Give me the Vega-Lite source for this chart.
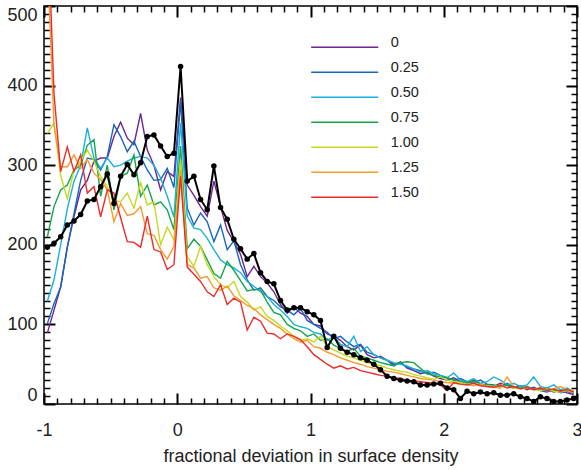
{
  "$schema": "https://vega.github.io/schema/vega-lite/v6.json",
  "width": 533,
  "height": 398,
  "autosize": {"type": "none"},
  "padding": {"left": 44, "top": 6, "right": 4, "bottom": 66},
  "config": {
    "font": "Liberation Sans",
    "view": {"stroke": "#000", "strokeWidth": 1.5},
    "axis": {"grid": false, "domain": false, "labelColor": "#222", "titleColor": "#222", "labelFont": "Liberation Sans", "titleFont": "Liberation Sans"},
    "legend": {"labelFont": "Liberation Sans", "labelColor": "#222"}
  },
  "data": {"values": [
    {"x": -0.975, "a": 89, "b": 101, "c": 129, "d": 210, "e": 340, "f": 560, "g": 620, "k": 197},
    {"x": -0.925, "a": 118, "b": 126, "c": 156, "d": 248, "e": 353, "f": 350, "g": 390, "k": 202},
    {"x": -0.875, "a": 147, "b": 147, "c": 200, "d": 269, "e": 287, "f": 298, "g": 292, "k": 210},
    {"x": -0.825, "a": 197, "b": 197, "c": 245, "d": 275, "e": 258, "f": 298, "g": 323, "k": 225},
    {"x": -0.775, "a": 235, "b": 239, "c": 280, "d": 294, "e": 294, "f": 313, "g": 292, "k": 230},
    {"x": -0.725, "a": 269, "b": 281, "c": 300, "d": 300, "e": 305, "f": 296, "g": 313, "k": 238},
    {"x": -0.675, "a": 281, "b": 309, "c": 347, "d": 325, "e": 319, "f": 307, "g": 265, "k": 255},
    {"x": -0.625, "a": 305, "b": 307, "c": 309, "d": 332, "e": 305, "f": 290, "g": 273, "k": 257},
    {"x": -0.575, "a": 309, "b": 294, "c": 296, "d": 261, "e": 286, "f": 282, "g": 235, "k": 273},
    {"x": -0.525, "a": 309, "b": 311, "c": 309, "d": 300, "e": 273, "f": 269, "g": 269, "k": 289},
    {"x": -0.475, "a": 336, "b": 351, "c": 298, "d": 244, "e": 256, "f": 229, "g": 265, "k": 252},
    {"x": -0.425, "a": 354, "b": 336, "c": 300, "d": 286, "e": 254, "f": 252, "g": 234, "k": 286},
    {"x": -0.375, "a": 334, "b": 317, "c": 305, "d": 290, "e": 265, "f": 237, "g": 204, "k": 301},
    {"x": -0.325, "a": 326, "b": 330, "c": 309, "d": 313, "e": 246, "f": 239, "g": 203, "k": 288},
    {"x": -0.275, "a": 365, "b": 311, "c": 311, "d": 261, "e": 278, "f": 248, "g": 197, "k": 303},
    {"x": -0.225, "a": 319, "b": 294, "c": 309, "d": 275, "e": 250, "f": 214, "g": 236, "k": 336},
    {"x": -0.175, "a": 300, "b": 281, "c": 300, "d": 250, "e": 254, "f": 212, "g": 194, "k": 338},
    {"x": -0.125, "a": 269, "b": 282, "c": 284, "d": 254, "e": 200, "f": 194, "g": 191, "k": 324},
    {"x": -0.075, "a": 292, "b": 296, "c": 261, "d": 244, "e": 222, "f": 182, "g": 169, "k": 311},
    {"x": -0.025, "a": 286, "b": 272, "c": 235, "d": 219, "e": 206, "f": 198, "g": 175, "k": 315},
    {"x": 0.025, "a": 385, "b": 380, "c": 353, "d": 324, "e": 307, "f": 294, "g": 286, "k": 424},
    {"x": 0.075, "a": 275, "b": 246, "c": 236, "d": 195, "e": 185, "f": 175, "g": 172, "k": 280},
    {"x": 0.125, "a": 262, "b": 225, "c": 221, "d": 207, "e": 173, "f": 171, "g": 163, "k": 286},
    {"x": 0.175, "a": 248, "b": 240, "c": 219, "d": 198, "e": 198, "f": 158, "g": 154, "k": 257},
    {"x": 0.225, "a": 236, "b": 229, "c": 208, "d": 181, "e": 175, "f": 160, "g": 141, "k": 244},
    {"x": 0.275, "a": 280, "b": 204, "c": 194, "d": 164, "e": 160, "f": 146, "g": 135, "k": 299},
    {"x": 0.325, "a": 248, "b": 225, "c": 181, "d": 158, "e": 150, "f": 143, "g": 150, "k": 247},
    {"x": 0.375, "a": 218, "b": 194, "c": 175, "d": 179, "e": 146, "f": 148, "g": 125, "k": 232},
    {"x": 0.425, "a": 204, "b": 205, "c": 171, "d": 168, "e": 154, "f": 136, "g": 133, "k": 207},
    {"x": 0.475, "a": 188, "b": 175, "c": 165, "d": 155, "e": 135, "f": 130, "g": 128, "k": 195},
    {"x": 0.525, "a": 160, "b": 156, "c": 154, "d": 142, "e": 128, "f": 124, "g": 93, "k": 182},
    {"x": 0.575, "a": 173, "b": 143, "c": 148, "d": 144, "e": 118, "f": 120, "g": 109, "k": 189},
    {"x": 0.625, "a": 160, "b": 146, "c": 141, "d": 143, "e": 122, "f": 112, "g": 104, "k": 165},
    {"x": 0.675, "a": 152, "b": 135, "c": 135, "d": 128, "e": 110, "f": 106, "g": 89, "k": 154},
    {"x": 0.725, "a": 141, "b": 130, "c": 125, "d": 115, "e": 105, "f": 100, "g": 88, "k": 151},
    {"x": 0.775, "a": 125, "b": 122, "c": 118, "d": 112, "e": 98, "f": 95, "g": 82, "k": 130},
    {"x": 0.825, "a": 114, "b": 118, "c": 110, "d": 100, "e": 92, "f": 88, "g": 88, "k": 118},
    {"x": 0.875, "a": 122, "b": 112, "c": 100, "d": 95, "e": 85, "f": 82, "g": 85, "k": 121},
    {"x": 0.925, "a": 114, "b": 120, "c": 97, "d": 92, "e": 80, "f": 78, "g": 81, "k": 121},
    {"x": 0.975, "a": 110, "b": 105, "c": 95, "d": 85, "e": 82, "f": 80, "g": 72, "k": 116},
    {"x": 1.025, "a": 100, "b": 100, "c": 90, "d": 88, "e": 78, "f": 72, "g": 62, "k": 112},
    {"x": 1.075, "a": 98, "b": 95, "c": 88, "d": 80, "e": 85, "f": 70, "g": 56, "k": 105},
    {"x": 1.125, "a": 88, "b": 90, "c": 80, "d": 82, "e": 72, "f": 65, "g": 50, "k": 71},
    {"x": 1.175, "a": 85, "b": 82, "c": 85, "d": 74, "e": 68, "f": 62, "g": 45, "k": 85},
    {"x": 1.225, "a": 80, "b": 85, "c": 75, "d": 70, "e": 64, "f": 58, "g": 48, "k": 70},
    {"x": 1.275, "a": 72, "b": 78, "c": 72, "d": 66, "e": 60, "f": 55, "g": 44, "k": 65},
    {"x": 1.325, "a": 68, "b": 72, "c": 85, "d": 70, "e": 58, "f": 52, "g": 46, "k": 62},
    {"x": 1.375, "a": 74, "b": 75, "c": 66, "d": 60, "e": 55, "f": 50, "g": 42, "k": 58},
    {"x": 1.425, "a": 62, "b": 65, "c": 72, "d": 58, "e": 52, "f": 47, "g": 40, "k": 55},
    {"x": 1.475, "a": 58, "b": 62, "c": 62, "d": 55, "e": 50, "f": 45, "g": 38, "k": 50},
    {"x": 1.525, "a": 60, "b": 58, "c": 58, "d": 52, "e": 48, "f": 43, "g": 36, "k": 43},
    {"x": 1.575, "a": 55, "b": 55, "c": 55, "d": 50, "e": 45, "f": 41, "g": 35, "k": 35},
    {"x": 1.625, "a": 48, "b": 50, "c": 52, "d": 48, "e": 43, "f": 40, "g": 33, "k": 32},
    {"x": 1.675, "a": 53, "b": 52, "c": 50, "d": 52, "e": 41, "f": 38, "g": 32, "k": 30},
    {"x": 1.725, "a": 45, "b": 46, "c": 48, "d": 53, "e": 40, "f": 36, "g": 30, "k": 29},
    {"x": 1.775, "a": 42, "b": 44, "c": 44, "d": 52, "e": 37, "f": 34, "g": 29, "k": 28},
    {"x": 1.825, "a": 38, "b": 42, "c": 40, "d": 45, "e": 35, "f": 32, "g": 28, "k": 24},
    {"x": 1.875, "a": 40, "b": 38, "c": 42, "d": 38, "e": 33, "f": 31, "g": 27, "k": 24},
    {"x": 1.925, "a": 35, "b": 40, "c": 38, "d": 36, "e": 31, "f": 30, "g": 26, "k": 25},
    {"x": 1.975, "a": 32, "b": 36, "c": 36, "d": 34, "e": 34, "f": 28, "g": 24, "k": 26},
    {"x": 2.025, "a": 30, "b": 33, "c": 33, "d": 33, "e": 30, "f": 27, "g": 17, "k": 20},
    {"x": 2.075, "a": 33, "b": 30, "c": 39, "d": 30, "e": 28, "f": 26, "g": 27, "k": 18},
    {"x": 2.125, "a": 28, "b": 32, "c": 30, "d": 28, "e": 27, "f": 25, "g": 25, "k": 7},
    {"x": 2.175, "a": 26, "b": 28, "c": 28, "d": 27, "e": 25, "f": 24, "g": 24, "k": 16},
    {"x": 2.225, "a": 30, "b": 27, "c": 32, "d": 29, "e": 26, "f": 23, "g": 26, "k": 13},
    {"x": 2.275, "a": 25, "b": 30, "c": 26, "d": 25, "e": 24, "f": 25, "g": 23, "k": 15},
    {"x": 2.325, "a": 24, "b": 25, "c": 28, "d": 24, "e": 23, "f": 22, "g": 22, "k": 13},
    {"x": 2.375, "a": 22, "b": 24, "c": 34, "d": 23, "e": 22, "f": 21, "g": 21, "k": 14},
    {"x": 2.425, "a": 26, "b": 22, "c": 30, "d": 22, "e": 24, "f": 20, "g": 24, "k": 11},
    {"x": 2.475, "a": 23, "b": 26, "c": 24, "d": 24, "e": 21, "f": 34, "g": 20, "k": 11},
    {"x": 2.525, "a": 20, "b": 21, "c": 26, "d": 21, "e": 20, "f": 22, "g": 22, "k": 13},
    {"x": 2.575, "a": 22, "b": 23, "c": 22, "d": 20, "e": 19, "f": 19, "g": 19, "k": 9},
    {"x": 2.625, "a": 18, "b": 19, "c": 24, "d": 22, "e": 21, "f": 20, "g": 21, "k": 7},
    {"x": 2.675, "a": 21, "b": 20, "c": 34, "d": 19, "e": 18, "f": 18, "g": 18, "k": 3},
    {"x": 2.725, "a": 17, "b": 17, "c": 22, "d": 18, "e": 17, "f": 21, "g": 20, "k": 9},
    {"x": 2.775, "a": 19, "b": 15, "c": 20, "d": 20, "e": 19, "f": 17, "g": 17, "k": 7},
    {"x": 2.825, "a": 15, "b": 18, "c": 24, "d": 17, "e": 16, "f": 19, "g": 19, "k": 3},
    {"x": 2.875, "a": 17, "b": 14, "c": 18, "d": 16, "e": 15, "f": 22, "g": 16, "k": 3},
    {"x": 2.925, "a": 14, "b": 16, "c": 20, "d": 18, "e": 17, "f": 18, "g": 18, "k": 5},
    {"x": 2.975, "a": 12, "b": 13, "c": 16, "d": 15, "e": 14, "f": 17, "g": 15, "k": 7}
  ]},
  "layer": [
    {
      "transform": [{"fold": ["a", "b", "c", "d", "e", "f", "g"], "as": ["s", "v"]}],
      "mark": {"type": "line", "strokeWidth": 1.4, "clip": true},
      "encoding": {
        "x": {
          "field": "x", "type": "quantitative",
          "scale": {"domain": [-1, 3], "nice": false, "zero": false},
          "axis": {
            "orient": "bottom",
            "values": [-1, 0, 1, 2, 3],
            "labelExpr": "'' + datum.value",
            "tickSize": 11, "offset": -11, "tickColor": "#000", "tickWidth": 2,
            "labelPadding": 17,
            "labelOverlap": false,
            "labelFlush": false,
            "labelFontSize": 18,
            "title": "fractional deviation in surface density",
            "titleFontSize": 18,
            "titleFontWeight": "normal",
            "titlePadding": 8
          }
        },
        "y": {
          "field": "v", "type": "quantitative",
          "scale": {"domain": [0, 500], "nice": false},
          "axis": {
            "orient": "left",
            "values": [0, 100, 200, 300, 400, 500],
            "tickSize": 11, "offset": -11, "tickColor": "#000", "tickWidth": 2,
            "labelPadding": 7,
            "labelOverlap": false,
            "labelFlush": true,
            "labelFontSize": 18,
            "title": null
          }
        },
        "color": {
          "field": "s", "type": "nominal",
          "scale": {"domain": ["a", "b", "c", "d", "e", "f", "g"], "range": ["#6e2590", "#1466c0", "#1ab0da", "#12a54a", "#c5d920", "#f79a2e", "#ee2a2a"]},
          "legend": {
            "orient": "none", "legendX": 292.7, "legendY": 33.2, "padding": 0, "title": null,
            "symbolType": "M-5,0H5", "symbolSize": 180, "symbolStrokeWidth": 1.6,
            "labelOffset": 38, "labelFontSize": 14.5, "labelBaseline": "alphabetic", "rowPadding": 9,
            "labelExpr": "{'a': '0', 'b': '0.25', 'c': '0.50', 'd': '0.75', 'e': '1.00', 'f': '1.25', 'g': '1.50'}[datum.label]"
          }
        }
      }
    },
    {
      "mark": {"type": "line", "color": "#000", "strokeWidth": 2, "clip": true, "point": {"filled": true, "size": 30, "color": "#000"}},
      "encoding": {
        "x": {
          "field": "x", "type": "quantitative",
          "scale": {"domain": [-1, 3], "nice": false, "zero": false},
          "axis": {"orient": "top", "values": [-1, 0, 1, 2, 3], "labels": false, "tickSize": 11, "offset": -11, "tickColor": "#000", "tickWidth": 2, "title": null}
        },
        "y": {
          "field": "k", "type": "quantitative",
          "scale": {"domain": [0, 500], "nice": false},
          "axis": {"orient": "right", "values": [0, 100, 200, 300, 400, 500], "labels": false, "tickSize": 11, "offset": -11, "tickColor": "#000", "tickWidth": 2, "title": null}
        }
      }
    },
    {
      "mark": {"type": "line", "opacity": 0},
      "encoding": {
        "x": {
          "field": "x", "type": "quantitative",
          "scale": {"domain": [-1, 3], "nice": false, "zero": false},
          "axis": {"orient": "bottom", "values": [-0.9, -0.8, -0.7, -0.6, -0.5, -0.4, -0.3, -0.2, -0.1, 0.1, 0.2, 0.3, 0.4, 0.5, 0.6, 0.7, 0.8, 0.9, 1.1, 1.2, 1.3, 1.4, 1.5, 1.6, 1.7, 1.8, 1.9, 2.1, 2.2, 2.3, 2.4, 2.5, 2.6, 2.7, 2.8, 2.9], "labels": false, "tickSize": 6, "offset": -6, "tickColor": "#000", "tickWidth": 1.5, "title": null}
        },
        "y": {
          "field": "k", "type": "quantitative",
          "scale": {"domain": [0, 500], "nice": false},
          "axis": {"orient": "left", "values": [10, 20, 30, 40, 50, 60, 70, 80, 90, 110, 120, 130, 140, 150, 160, 170, 180, 190, 210, 220, 230, 240, 250, 260, 270, 280, 290, 310, 320, 330, 340, 350, 360, 370, 380, 390, 410, 420, 430, 440, 450, 460, 470, 480, 490], "labels": false, "tickSize": 6, "offset": -6, "tickColor": "#000", "tickWidth": 1.5, "title": null}
        }
      }
    },
    {
      "mark": {"type": "line", "opacity": 0},
      "encoding": {
        "x": {
          "field": "x", "type": "quantitative",
          "scale": {"domain": [-1, 3], "nice": false, "zero": false},
          "axis": {"orient": "top", "values": [-0.9, -0.8, -0.7, -0.6, -0.5, -0.4, -0.3, -0.2, -0.1, 0.1, 0.2, 0.3, 0.4, 0.5, 0.6, 0.7, 0.8, 0.9, 1.1, 1.2, 1.3, 1.4, 1.5, 1.6, 1.7, 1.8, 1.9, 2.1, 2.2, 2.3, 2.4, 2.5, 2.6, 2.7, 2.8, 2.9], "labels": false, "tickSize": 6, "offset": -6, "tickColor": "#000", "tickWidth": 1.5, "title": null}
        },
        "y": {
          "field": "k", "type": "quantitative",
          "scale": {"domain": [0, 500], "nice": false},
          "axis": {"orient": "right", "values": [10, 20, 30, 40, 50, 60, 70, 80, 90, 110, 120, 130, 140, 150, 160, 170, 180, 190, 210, 220, 230, 240, 250, 260, 270, 280, 290, 310, 320, 330, 340, 350, 360, 370, 380, 390, 410, 420, 430, 440, 450, 460, 470, 480, 490], "labels": false, "tickSize": 6, "offset": -6, "tickColor": "#000", "tickWidth": 1.5, "title": null}
        }
      }
    }
  ],
  "resolve": {"axis": {"x": "independent", "y": "independent"}}
}
